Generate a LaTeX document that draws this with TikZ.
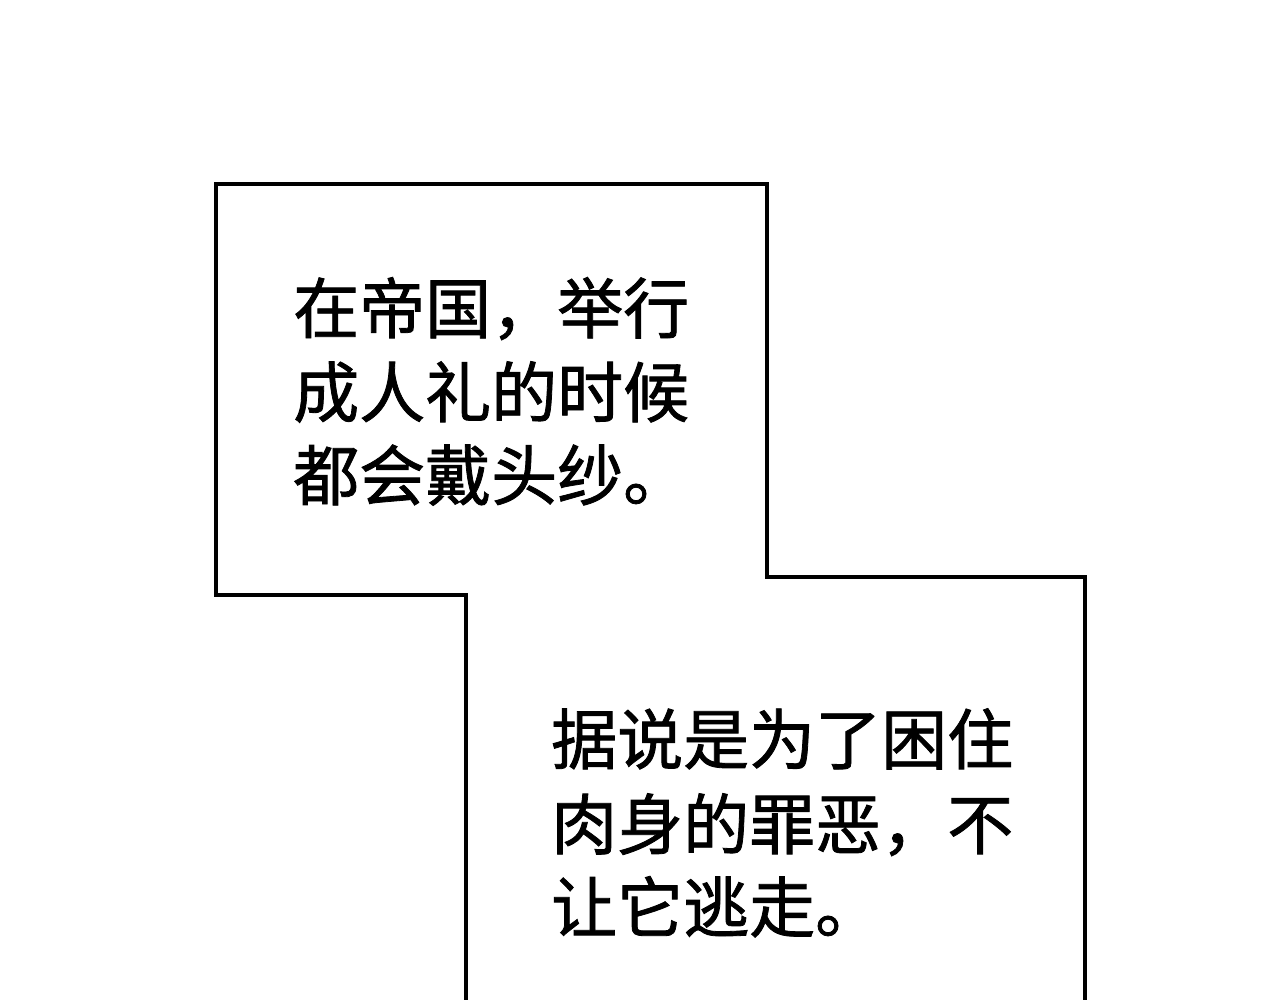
\documentclass[tikz,border=0pt]{standalone}
\usepackage{fontspec}
\newfontfamily\cjk[FakeBold=1.2]{Noto Sans CJK SC}
\tikzset{
  frame/.style={draw=black, line width=4.5pt, line join=miter, fill=white},
  caption/.style={anchor=base west, inner sep=0pt, font=\cjk\fontsize{66pt}{85pt}\selectfont, text=black}
}
\begin{document}
\begin{tikzpicture}[x=1pt,y=-1pt]
\useasboundingbox (0,0) rectangle (1280,1000);
\clip (0,0) rectangle (1280,1000);
\fill[white] (0,0) rectangle (1280,1000);
% combined panel outline
\draw[frame] (466,1010) -- (466,595) -- (216,595) -- (216,184) -- (767,184) -- (767,577) -- (1085,577) -- (1085,1010);
% first box text
\node[caption] (a1) at (293,333) {在帝国，举行};
\node[caption] (a2) at (293,417) {成人礼的时候};
\node[caption] (a3) at (293,500) {都会戴头纱。};
% second box text
\node[caption] (b1) at (551,764) {据说是为了困住};
\node[caption] (b2) at (551,849) {肉身的罪恶，不};
\node[caption] (b3) at (551,932) {让它逃走。};
\end{tikzpicture}
\end{document}
